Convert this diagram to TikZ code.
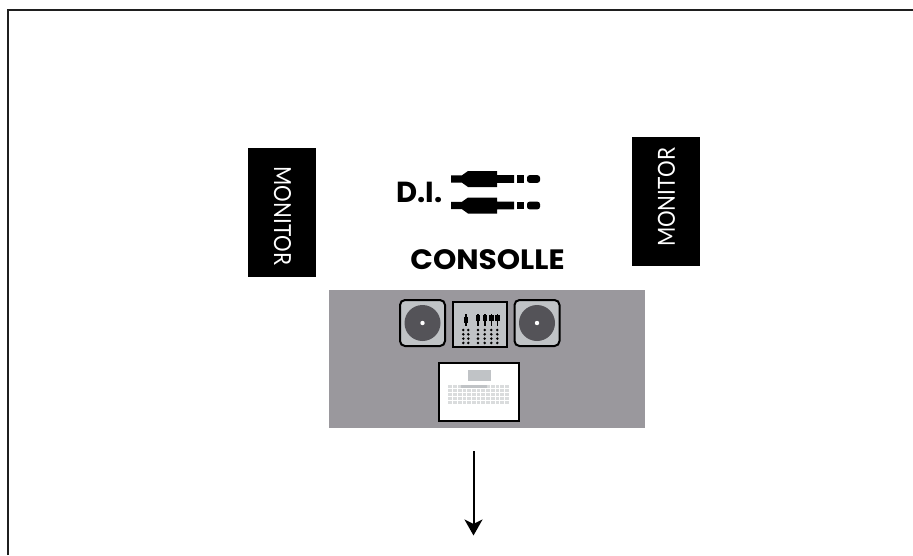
\documentclass[tikz,border=0pt]{standalone}
\usepackage{fontspec}
\setmainfont{Lato}
\newfontfamily\headfont{Poppins}
\usetikzlibrary{arrows.meta}
\definecolor{desk}{HTML}{9A989D}
\definecolor{plate}{HTML}{C0C3C6}
\definecolor{platter}{HTML}{545358}
\definecolor{keygrey}{HTML}{DADCDD}
\tikzset{
  x=1pt,y=-1pt,
  monitorbox/.style={fill=black,minimum width=129pt,minimum height=68pt,inner sep=0pt,anchor=center},
  monitorlabel/.style={text=white,font=\fontsize{23.5}{26}\selectfont,inner sep=0pt,anchor=center},
  heading/.style={font=\headfont\bfseries\fontsize{28}{30}\selectfont,inner sep=0pt},
  deck/.style={draw=black,line width=2pt,fill=plate,rounded corners=5pt},
  jack/.style={fill=black,draw=none}
}
\newcommand{\jackplug}[1]{%
  \begin{scope}[shift={(451,#1)}]
    \fill[jack] (0,-3.7) -- (11,-3.7) -- (17,-8) -- (46,-8) -- (46,-3.8) -- (63,-3.8) -- (63,3.8) -- (46,3.8) -- (46,8) -- (17,8) -- (11,3.7) -- (0,3.7) -- cycle;
    \fill[jack] (66,-3.8) rectangle (73,3.8);
    \fill[jack,rounded corners=2.5pt] (76,-3.8) rectangle (89,3.8);
  \end{scope}}
\newcommand{\turntable}[2]{%
  \draw[deck] (#1-22.5,#2-23) rectangle (#1+22.5,#2+23);
  \fill[platter] (#1,#2) circle (18pt);
  \fill[white] (#1,#2) circle (2.2pt);}
\newcommand{\fadercol}[2]{%
  \fill[black] (#1-0.8,314) rectangle (#1+0.8,326);
  \fill[black] (#1-2.2,#2-3) rectangle (#1+2.2,#2+3);}
\newcommand{\dotcol}[1]{%
  \foreach \dy in {0,1,2,3}{\fill[black] (#1,330+\dy*4.3) circle (1.4pt);}}
\begin{document}
\begin{tikzpicture}
\useasboundingbox (0,0) rectangle (913,555);
\fill[white] (0,0) rectangle (913,555);
\draw[line width=2.2pt,draw=black!88] (8,555) -- (8,10) -- (913,10);
% monitors
\node[monitorbox] (monL) at (282,212.6) [rotate=-90] {};
\node[monitorlabel,rotate=-90] (monLt) at (282.5,216) {\scalebox{.885}[1]{MONITOR}};
\node[monitorbox] (monR) at (666,201) [rotate=90] {};
\node[monitorlabel,rotate=90] (monRt) at (666.5,197.5) {\scalebox{.885}[1]{MONITOR}};
% D.I.
\node[heading,anchor=base west,font=\headfont\bfseries\fontsize{29}{30}\selectfont] (di) at (396,202) {D.I.};
\jackplug{179}
\jackplug{205.5}
\node[heading] (cons) at (487.5,260) {\scalebox{1.06}[1]{CONSOLLE}};
% desk
\fill[desk] (329,290) rectangle (645,428);
\turntable{422.5}{323}
\turntable{537}{323}
\draw[draw=black,line width=2pt,fill=plate] (453,301.5) rectangle (507,346.5);
\fadercol{466}{320}
\fadercol{478}{318}
\fadercol{484.7}{318}
\fadercol{491.3}{318}
\fadercol{497.3}{318}
\dotcol{463.3}\dotcol{468.3}\dotcol{478}\dotcol{484.7}\dotcol{491.3}\dotcol{497.3}
% controller
\draw[draw=black,line width=2pt,fill=white] (438.5,362.5) rectangle (519,421);
\fill[plate] (467.5,370) rectangle (491,381);
\foreach \r in {0,1,2,3,4}{
  \fill[keygrey] (448,385+\r*4.1) rectangle (510,388+\r*4.1);
}
\foreach \c in {0,1,...,12}{
  \fill[white] (452.2+\c*4.7,384) rectangle (452.8+\c*4.7,405);
}
\fill[plate] (461,385) rectangle (487,388);
% arrow
\coordinate (a0) at (473.5,451);
\coordinate (a1) at (473.5,535.5);
\draw[line width=2pt,-{Stealth[length=16pt,width=18pt,inset=4.5pt]}] (a0) -- (a1);
\end{tikzpicture}
\end{document}
